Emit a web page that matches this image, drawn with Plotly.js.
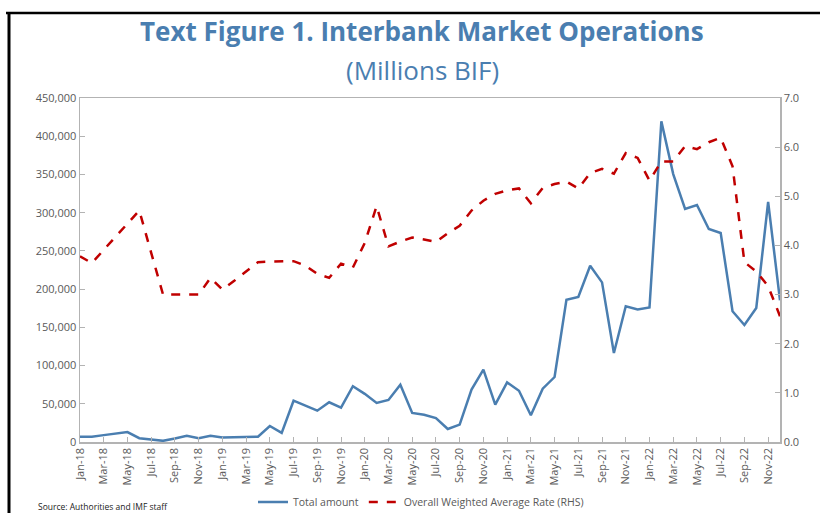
<!DOCTYPE html>
<html>
<head>
<meta charset="utf-8">
<script src="https://cdn.plot.ly/plotly-3.0.1.min.js"></script>
<style>html,body{margin:0;padding:0;background:#fff;}#chart{width:820px;height:513px;}</style>
</head>
<body>
<div id="chart"></div>
<script>
var months = ["Jan-18","Feb-18","Mar-18","Apr-18","May-18","Jun-18","Jul-18","Aug-18","Sep-18","Oct-18","Nov-18","Dec-18",
"Jan-19","Feb-19","Mar-19","Apr-19","May-19","Jun-19","Jul-19","Aug-19","Sep-19","Oct-19","Nov-19","Dec-19",
"Jan-20","Feb-20","Mar-20","Apr-20","May-20","Jun-20","Jul-20","Aug-20","Sep-20","Oct-20","Nov-20","Dec-20",
"Jan-21","Feb-21","Mar-21","Apr-21","May-21","Jun-21","Jul-21","Aug-21","Sep-21","Oct-21","Nov-21","Dec-21",
"Jan-22","Feb-22","Mar-22","Apr-22","May-22","Jun-22","Jul-22","Aug-22","Sep-22","Oct-22","Nov-22","Dec-22"];

var totalAmount = [7000,7000,9000,11000,13000,5000,3500,1500,4500,8000,5000,8000,
6000,6500,7000,7000,21000,12000,54000,47000,41000,52000,45000,73000,
63000,51000,55000,75000,38000,35700,31400,17000,22700,68500,94600,48800,
78000,67000,34900,69800,85000,186000,189700,230600,208800,116400,177500,173500,
176000,419400,350500,305000,310000,278600,273400,171000,153000,175300,314000,185300];

var avgRate = [3.78,3.64,3.91,4.18,4.46,4.71,3.85,3.00,3.00,3.00,3.00,3.34,
3.10,3.28,3.47,3.66,3.67,3.68,3.68,3.59,3.42,3.34,3.63,3.55,
4.05,4.80,3.98,4.08,4.16,4.12,4.07,4.25,4.40,4.71,4.91,5.05,
5.12,5.16,4.86,5.17,5.25,5.30,5.16,5.47,5.56,5.46,5.88,5.78,
5.32,5.71,5.71,6.02,5.96,6.10,6.19,5.61,3.66,3.47,3.17,2.56];

var leftTicks = [0,50000,100000,150000,200000,250000,300000,350000,400000,450000];
var rightTicks = [0,1,2,3,4,5,6,7];
var tickMonths = months.filter(function(m, i){ return i % 2 === 0; });

var gray = "#595959";
var axisLine = "#b3b3b3";

var traces = [
  {x: months, y: totalAmount, name: "Total amount", type: "scatter", mode: "lines",
   line: {color: "#4a7eb0", width: 2.5}, yaxis: "y"},
  {x: months, y: avgRate, name: "Overall Weighted Average Rate (RHS)", type: "scatter", mode: "lines",
   line: {color: "#c00000", width: 2.5, dash: "dash"}, yaxis: "y2"}
];

function px2x(p){ return (p - 80) / 700; }
function py2y(p){ return (442 - p) / 344; }

var layout = {
  width: 820, height: 513,
  margin: {l: 80, r: 40, t: 98, b: 71},
  paper_bgcolor: "#fff", plot_bgcolor: "#fff",
  font: {family: "Open Sans, sans-serif", color: gray, size: 11},
  showlegend: true,
  legend: {orientation: "h", xref: "container", yref: "container",
           x: 421/820, xanchor: "center", y: 1 - 502/513, yanchor: "middle",
           font: {size: 10.5, color: gray}, tracegroupgap: 0, itemwidth: 30},
  xaxis: {
    type: "category", range: [0, 59], tickvals: tickMonths, ticktext: tickMonths,
    tickangle: -90, ticks: "inside", ticklen: 5, tickcolor: axisLine,
    showline: true, linecolor: axisLine, linewidth: 1.5, mirror: true,
    showgrid: false, zeroline: false, automargin: false, tickfont: {size: 11, color: gray}
  },
  yaxis: {
    range: [0, 450000], tickvals: leftTicks, tickformat: ",d",
    ticks: "inside", ticklen: 5, tickcolor: axisLine,
    showline: true, linecolor: axisLine, linewidth: 1.5, automargin: false,
    showgrid: false, zeroline: false, tickfont: {size: 11, color: gray}
  },
  yaxis2: {
    overlaying: "y", side: "right", range: [0, 7], tickvals: rightTicks, tickformat: ".1f",
    ticks: "inside", ticklen: 5, tickcolor: axisLine,
    showline: true, linecolor: axisLine, linewidth: 1.5, automargin: false,
    showgrid: false, zeroline: false, tickfont: {size: 11, color: gray}
  },
  annotations: [
    {text: "<b>Text Figure 1. Interbank Market Operations</b>", xref: "paper", yref: "paper",
     x: px2x(422), y: py2y(31), xanchor: "center", yanchor: "middle", showarrow: false,
     font: {family: "Open Sans, sans-serif", size: 26, color: "#4a7eb0"}},
    {text: "(Millions BIF)", xref: "paper", yref: "paper",
     x: px2x(422), y: py2y(70), xanchor: "center", yanchor: "middle", showarrow: false,
     font: {family: "Open Sans, sans-serif", size: 26, color: "#4a7eb0"}},
    {text: "Source: Authorities and IMF staff", xref: "paper", yref: "paper",
     x: px2x(36), y: py2y(499), xanchor: "left", yanchor: "top", showarrow: false,
     font: {size: 8.5, color: "#222"}}
  ],
  shapes: [
    {type: "line", xref: "paper", yref: "paper", x0: px2x(6), x1: px2x(822), y0: py2y(13), y1: py2y(13),
     line: {color: "#000", width: 2.5}},
    {type: "line", xref: "paper", yref: "paper", x0: px2x(9), x1: px2x(9), y0: py2y(12), y1: py2y(520),
     line: {color: "#000", width: 3}}
  ]
};

Plotly.newPlot("chart", traces, layout, {displayModeBar: false, staticPlot: true});
</script>
</body>
</html>
